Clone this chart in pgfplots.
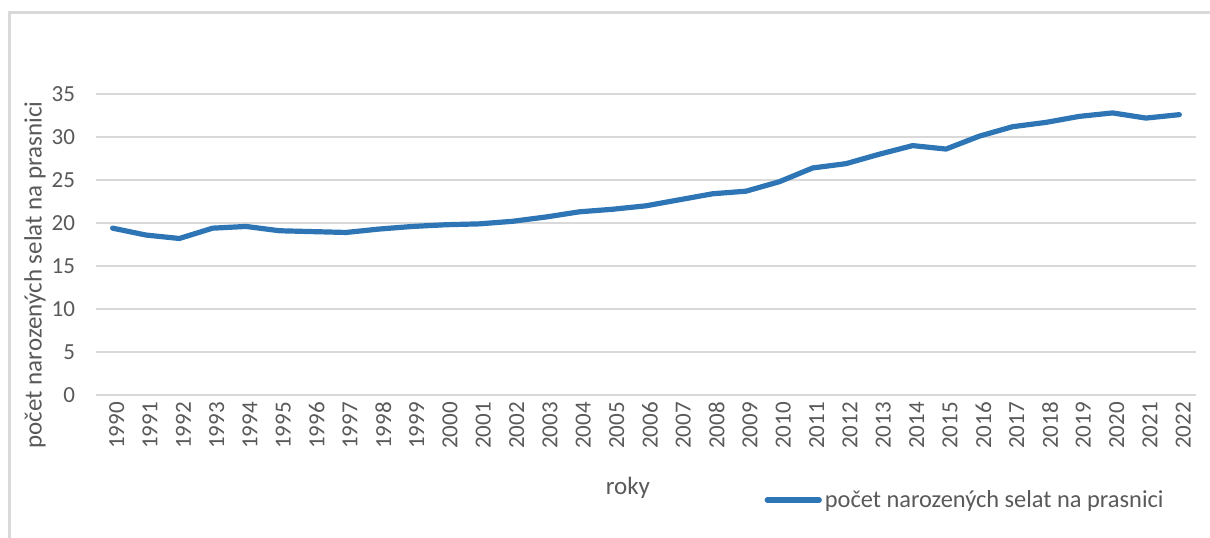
\documentclass[border=0pt]{standalone}
\usepackage{fontspec}
\setmainfont{Carlito}
\usepackage{pgfplots}
\pgfplotsset{compat=1.18}
\definecolor{lineblue}{HTML}{2E75B6}
\definecolor{gridgray}{HTML}{D9D9D9}
\definecolor{txtgray}{HTML}{595959}
\definecolor{framegray}{HTML}{D9D9D9}
\begin{document}
\begin{tikzpicture}
\path[use as bounding box] (-48pt,-71pt) rectangle (557pt,197.5pt);
\draw[framegray, line width=1.5pt] (-43pt,-75pt) -- (-43pt,191.5pt) -- (560pt,191.5pt);
\begin{axis}[
  scale only axis,
  width=550pt, height=150.5pt,
  xmin=-0.5, xmax=32.5,
  ymin=0, ymax=35,
  ytick={0,5,...,35},
  xtick=data,
  xticklabels={1990,1991,1992,1993,1994,1995,1996,1997,1998,1999,2000,2001,2002,2003,2004,2005,2006,2007,2008,2009,2010,2011,2012,2013,2014,2015,2016,2017,2018,2019,2020,2021,2022},
  /pgf/number format/assume math mode=true,
  ymajorgrids,
  grid style={gridgray, line width=0.75pt},
  axis line style={draw=none},
  major tick length=0pt,
  tick label style={font=\fontsize{11.5}{13}\selectfont, text=txtgray},
  yticklabel style={anchor=east, xshift=-7pt},
  xticklabel style={rotate=90, anchor=east, xshift=0pt, yshift=-2pt},
  xlabel={roky},
  ylabel={počet narozených selat na prasnici},
  every axis x label/.style={at={(axis description cs:0.4836,-0.309)}, anchor=center, font=\fontsize{12.5}{14}\selectfont, text=txtgray},
  every axis y label/.style={at={(axis description cs:-0.0555,0.399)}, rotate=90, anchor=center, font=\fontsize{12.5}{14}\selectfont, text=txtgray},
  legend style={at={(axis description cs:0.6075,-0.349)}, anchor=west, draw=none, fill=none, inner sep=0pt,
    font=\fontsize{12.2}{14}\selectfont, text=txtgray, nodes={inner sep=1.5pt}},
  legend image code/.code={\draw[#1, line cap=round] (0pt,0pt) -- (26pt,0pt);},
  clip=false,
]
\addplot[lineblue, line width=2.6pt, line join=round, line cap=round] coordinates {
(0,19.4) (1,18.6) (2,18.2) (3,19.4) (4,19.6) (5,19.1) (6,19.0) (7,18.9) (8,19.3) (9,19.6)
(10,19.8) (11,19.9) (12,20.2) (13,20.7) (14,21.3) (15,21.6) (16,22.0) (17,22.7) (18,23.4) (19,23.7)
(20,24.8) (21,26.4) (22,26.9) (23,28.0) (24,29.0) (25,28.6) (26,30.1) (27,31.2) (28,31.7) (29,32.4)
(30,32.8) (31,32.2) (32,32.6)
};
\addlegendentry{počet narozených selat na prasnici}
\end{axis}
\end{tikzpicture}
\end{document}
